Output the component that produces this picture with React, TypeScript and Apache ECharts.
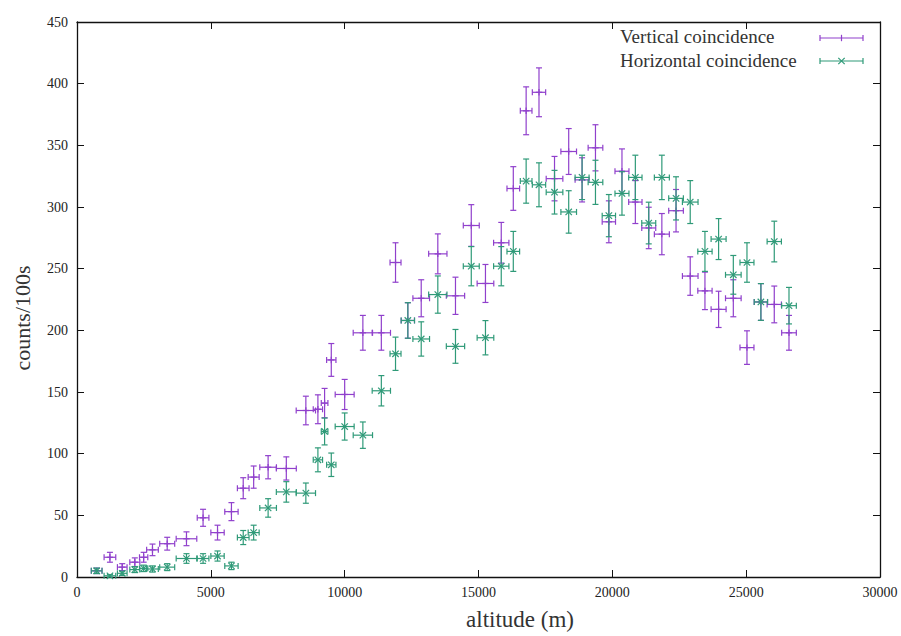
import React, { useEffect, useRef } from "react";
import * as echarts from "echarts";

// altitude bins (m) shared by both series
const altitude = [
  735, 1230, 1690, 2160, 2490, 2820, 3370, 4090, 4710, 5250,
  5770, 6210, 6600, 7140, 7820, 8550, 9000, 9250, 9500, 10000,
  10680, 11370, 11900, 12360, 12860, 13480, 14140, 14730, 15260, 15850,
  16300, 16780, 17260, 17840, 18370, 18870, 19370, 19870, 20360, 20860,
  21360, 21850, 22380, 22910, 23460, 23970, 24520, 25030, 25550, 26050,
  26600,
];
// horizontal error (m)
const altitudeErr = [
  200, 218, 180, 187, 155, 218, 280, 385, 218, 249,
  249, 218, 205, 311, 373, 361, 174, 124, 174, 354,
  361, 342, 205, 249, 311, 342, 342, 298, 311, 286,
  236, 218, 249, 311, 292, 261, 274, 249, 261, 249,
  261, 280, 274, 292, 267, 280, 292, 261, 249, 267,
  274,
];
const verticalCounts = [
  5, 16, 8, 12, 16, 22, 27, 31, 48, 36,
  53, 72, 81, 89, 88, 135, 136, 141, 176, 148,
  198, 198, 255, 208, 226, 262, 228, 285, 238, 271,
  315, 378, 393, 323, 345, 322, 348, 288, 329, 304,
  283, 278, 297, 244, 232, 217, 226, 186, 223, 221,
  198,
];
const verticalErr = [
  2.2, 4, 2.8, 3.5, 4, 4.7, 5.2, 5.6, 6.9, 6,
  7.3, 8.5, 9, 9.4, 9.4, 11.6, 11.7, 11.9, 13.3, 12.2,
  14.1, 14.1, 16, 14.4, 15, 16.2, 15.1, 16.9, 15.4, 16.5,
  17.7, 19.4, 19.8, 18, 18.6, 17.9, 18.7, 17, 18.1, 17.4,
  16.8, 16.7, 17.2, 15.6, 15.2, 14.7, 15, 13.6, 14.9, 14.9,
  14.1,
];
const horizontalCounts = [
  5, 1, 3, 6, 7, 6.5, 8, 15, 15, 17,
  9, 32, 36, 56, 69, 68, 95, 118, 91, 122,
  115, 151, 181, 208, 193, 229, 187, 252, 194, 252,
  264, 321, 318, 312, 296, 324, 320, 293, 311, 324,
  287, 324, 307, 304, 264, 274, 245, 255, 223, 272,
  220,
];
const horizontalErr = [
  2.2, 1, 1.7, 2.4, 2.6, 2.5, 2.8, 3.9, 3.9, 4.1,
  3, 5.7, 6, 7.5, 8.3, 8.2, 9.7, 10.9, 9.5, 11,
  10.7, 12.3, 13.5, 14.4, 13.9, 15.1, 13.7, 15.9, 13.9, 15.9,
  16.2, 17.9, 17.8, 17.7, 17.2, 18, 17.9, 17.1, 17.6, 18,
  16.9, 18, 17.5, 17.4, 16.2, 16.6, 15.7, 16, 14.9, 16.5,
  14.8,
];

const seriesNames = ["Vertical coincidence", "Horizontal coincidence"];
const PURPLE = "#9040cc";
const GREEN = "#2f9a78";
const FONT = "'Liberation Serif', 'DejaVu Serif', serif";

function seg(x1: number, y1: number, x2: number, y2: number, color: string) {
  return {
    type: "line",
    shape: { x1, y1, x2, y2 },
    style: { stroke: color, lineWidth: 1.2, fill: null },
  };
}

function makeRender(color: string, marker: "plus" | "cross") {
  return (_params: any, api: any) => {
    const x = api.value(0);
    const y = api.value(1);
    const xe = api.value(2);
    const ye = api.value(3);
    const c = api.coord([x, y]);
    const l = api.coord([x - xe, y]);
    const r = api.coord([x + xe, y]);
    const t = api.coord([x, y + ye]);
    const b = api.coord([x, y - ye]);
    const cap = 3;
    const m = 3.2;
    const children: any[] = [
      seg(l[0], c[1], r[0], c[1], color),
      seg(l[0], c[1] - cap, l[0], c[1] + cap, color),
      seg(r[0], c[1] - cap, r[0], c[1] + cap, color),
      seg(c[0], t[1], c[0], b[1], color),
      seg(c[0] - cap, t[1], c[0] + cap, t[1], color),
      seg(c[0] - cap, b[1], c[0] + cap, b[1], color),
    ];
    if (marker === "plus") {
      children.push(seg(c[0] - m, c[1], c[0] + m, c[1], color));
      children.push(seg(c[0], c[1] - m, c[0], c[1] + m, color));
    } else {
      children.push(seg(c[0] - m, c[1] - m, c[0] + m, c[1] + m, color));
      children.push(seg(c[0] - m, c[1] + m, c[0] + m, c[1] - m, color));
    }
    return { type: "group", children };
  };
}

function legendSample(y: number, color: string, marker: "plus" | "cross") {
  const x1 = 820;
  const x2 = 863;
  const cx = (x1 + x2) / 2;
  const m = 3.2;
  const items: any[] = [
    seg(x1, y, x2, y, color),
    seg(x1, y - 3, x1, y + 3, color),
    seg(x2, y - 3, x2, y + 3, color),
  ];
  if (marker === "plus") {
    items.push(seg(cx, y - m, cx, y + m, color));
  } else {
    items.push(seg(cx - m, y - m, cx + m, y + m, color));
    items.push(seg(cx - m, y + m, cx + m, y - m, color));
  }
  return items;
}

export default function App() {
  const ref = useRef<HTMLDivElement>(null);
  useEffect(() => {
    if (!ref.current) return;
    const chart = echarts.init(ref.current, null, { renderer: "svg" });
    const axisLine = { show: true, onZero: false, lineStyle: { color: "#111", width: 1.3 } };
    const axisTick = { show: true, inside: true, length: 7, lineStyle: { color: "#111", width: 1 } };
    const label = { fontFamily: FONT, fontSize: 14, color: "#222", formatter: (v: number) => String(v) };
    const vData = altitude.map((a, i) => [a, verticalCounts[i], altitudeErr[i], verticalErr[i]]);
    const hData = altitude.map((a, i) => [a, horizontalCounts[i], altitudeErr[i], horizontalErr[i]]);
    chart.setOption({
      animation: false,
      backgroundColor: "#fff",
      grid: { left: 77, top: 22, width: 803, height: 555, containLabel: false },
      xAxis: [
        {
          type: "value", min: 0, max: 30000, interval: 5000, position: "bottom",
          axisLine, axisTick, splitLine: { show: false },
          axisLabel: { ...label, margin: 8 },
        },
        {
          type: "value", min: 0, max: 30000, interval: 5000, position: "top",
          axisLine, axisTick, splitLine: { show: false }, axisLabel: { show: false },
        },
      ],
      yAxis: [
        {
          type: "value", min: 0, max: 450, interval: 50, position: "left",
          axisLine, axisTick, splitLine: { show: false },
          axisLabel: { ...label, margin: 9 },
        },
        {
          type: "value", min: 0, max: 450, interval: 50, position: "right",
          axisLine, axisTick, splitLine: { show: false }, axisLabel: { show: false },
        },
      ],
      series: [
        {
          type: "custom", name: seriesNames[0], xAxisIndex: 0, yAxisIndex: 0,
          data: vData, encode: { x: 0, y: 1 }, renderItem: makeRender(PURPLE, "plus"),
        },
        {
          type: "custom", name: seriesNames[1], xAxisIndex: 0, yAxisIndex: 0,
          data: hData, encode: { x: 0, y: 1 }, renderItem: makeRender(GREEN, "cross"),
        },
      ],
      graphic: [
        {
          type: "text", left: 620, top: 27,
          style: { text: seriesNames[0], fontFamily: FONT, fontSize: 19, fill: "#333" },
        },
        {
          type: "text", left: 620, top: 51,
          style: { text: seriesNames[1], fontFamily: FONT, fontSize: 19, fill: "#333" },
        },
        ...legendSample(38, PURPLE, "plus"),
        ...legendSample(61, GREEN, "cross"),
        {
          type: "text", x: 520, y: 619,
          style: { text: "altitude (m)", fontFamily: FONT, fontSize: 23, fill: "#333", align: "center", verticalAlign: "middle" },
        },
        {
          type: "text", x: 22, y: 318, rotation: Math.PI / 2,
          style: { text: "counts/100s", fontFamily: FONT, fontSize: 22, fill: "#333", align: "center", verticalAlign: "middle" },
        },
      ],
    });
    return () => chart.dispose();
  }, []);
  return (
    <div
      ref={ref}
      style={{ position: "fixed", left: 0, top: 0, width: 901, height: 636, background: "#fff" }}
    />
  );
}
